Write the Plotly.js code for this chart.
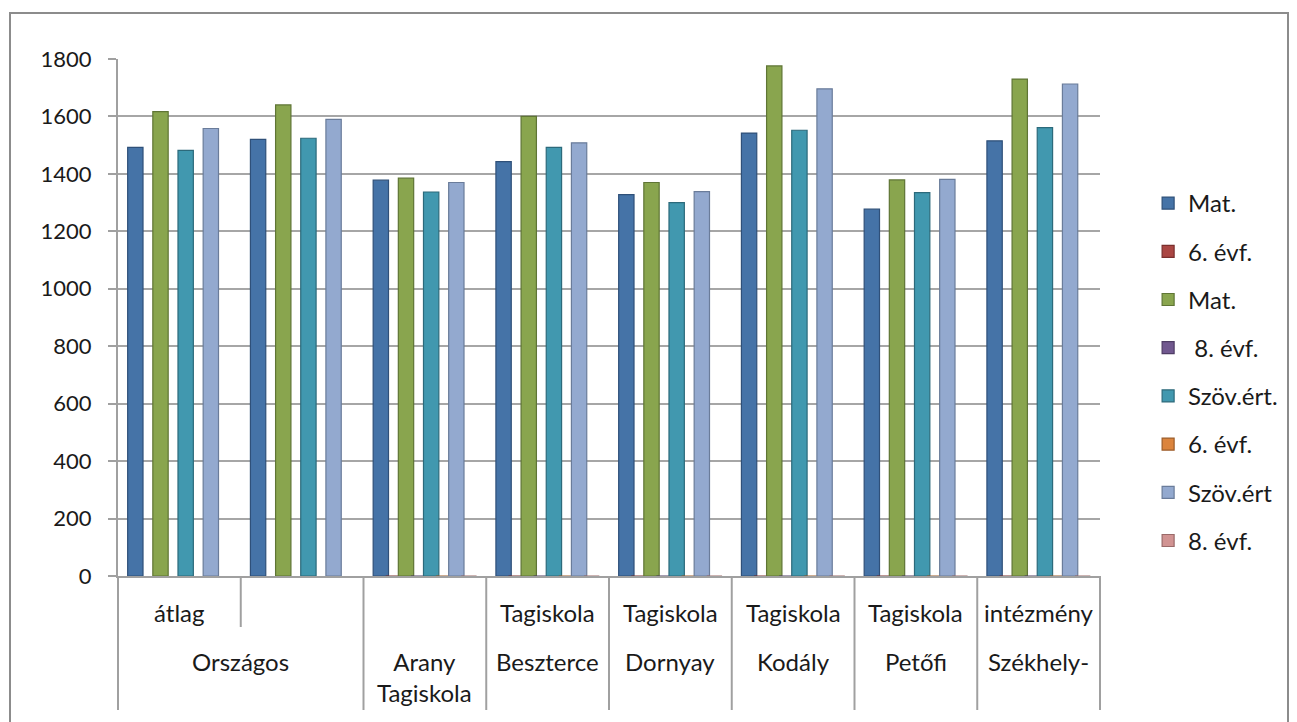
<!DOCTYPE html>
<html>
<head>
<meta charset="utf-8">
<script src="https://cdn.plot.ly/plotly-3.0.1.min.js"></script>
<style>html,body{margin:0;padding:0;background:#fff;}#chart{width:1297px;height:722px;}</style>
</head>
<body>
<div id="chart"></div>
<script>
// Category labels (two levels: upper row = inner, lower row = outer)
var outerLabels = ['Országos', 'Országos', 'Arany<br>Tagiskola', 'Beszterce', 'Dornyay', 'Kodály', 'Petőfi', 'Székhely-'];
var innerLabels = ['átlag', '', '', 'Tagiskola', 'Tagiskola', 'Tagiskola', 'Tagiskola', 'intézmény'];

// Y-axis ticks
var yTicks = [0, 200, 400, 600, 800, 1000, 1200, 1400, 1600, 1800];

// Series names (legend order)
var seriesNames = ['Mat.', '6. évf.', 'Mat.', ' 8. évf.', 'Szöv.ért.', '6. évf.', 'Szöv.ért', '8. évf.'];

// Series values
var matA  = [1492, 1520, 1378, 1443, 1328, 1542, 1277, 1515];
var evf6A = [null, null, 0, 0, 0, 0, 0, 0];
var matB  = [1617, 1640, 1385, 1600, 1370, 1776, 1379, 1730];
var evf8A = [null, null, 0, 0, 0, 0, 0, 0];
var szovA = [1482, 1524, 1337, 1492, 1300, 1552, 1335, 1561];
var evf6B = [null, null, 0, 0, 0, 0, 0, 0];
var szovB = [1558, 1590, 1370, 1508, 1338, 1696, 1381, 1713];
var evf8B = [null, null, 0, 0, 0, 0, 0, 0];

var seriesValues = [matA, evf6A, matB, evf8A, szovA, evf6B, szovB, evf8B];
var colors = ['#4573A7', '#AA4643', '#89A54E', '#71588F', '#4198AF', '#DB843D', '#93A9CF', '#D19392'];
var edges  = ['#2f5079', '#7a2f2d', '#5f7535', '#4f3d65', '#2c6a7b', '#9c5c28', '#6a7c9a', '#9a6a69'];

var FONT = 'Lato, "Liberation Sans", sans-serif';
var TEXT = '#1a1a1a';
var LINE = '#a0a0a0';

// Unique category keys built from the two label rows
var catKeys = outerLabels.map(function (o, i) { return o.replace('<br>', ' ') + ' | ' + innerLabels[i] + ' #' + i; });
var nCat = catKeys.length;

var traces = seriesValues.map(function (vals, i) {
  return {
    type: 'bar',
    name: seriesNames[i],
    x: catKeys,
    y: vals,
    width: 0.125,
    legendgroup: 'g' + i,
    marker: { color: colors[i], line: { color: edges[i], width: 1.2 } },
    hoverinfo: 'y+name'
  };
});

// Pixel helpers for the label band below the axis (plot: top 59, bottom 576)
var plotTop = 59, plotBottom = 576, plotH = plotBottom - plotTop;
function py(pix) { return (plotBottom - pix) / plotH; }

var annotations = [];
var shapes = [];

// Inner row labels
innerLabels.forEach(function (lab, i) {
  if (!lab) return;
  annotations.push({
    xref: 'paper', yref: 'paper', x: (i + 0.5) / nCat, y: py(612),
    xanchor: 'center', yanchor: 'middle', showarrow: false, text: lab,
    font: { family: FONT, size: 24, color: TEXT }
  });
});

// Outer row labels: merge consecutive equal labels into groups
var groups = [];
outerLabels.forEach(function (lab, i) {
  if (groups.length && groups[groups.length - 1].label === lab) groups[groups.length - 1].end = i;
  else groups.push({ label: lab, start: i, end: i });
});
groups.forEach(function (g) {
  annotations.push({
    xref: 'paper', yref: 'paper', x: ((g.start + g.end + 1) / 2) / nCat, y: py(645),
    xanchor: 'center', yanchor: 'top', showarrow: false, text: g.label,
    font: { family: FONT, size: 24, color: TEXT }
  });
});

// Dividers: group boundaries (full height) and inner boundaries within a group
for (var k = 0; k <= nCat; k++) {
  var isGroupEdge = (k === 0 || k === nCat || outerLabels[k] !== outerLabels[k - 1]);
  var bottom = isGroupEdge ? 710 : 627;
  shapes.push({
    type: 'line', xref: 'paper', yref: 'paper', x0: k / nCat, x1: k / nCat, y0: 0, y1: py(bottom),
    line: { color: LINE, width: 2 }
  });
}

// Chart frame
shapes.push({
  type: 'rect', xref: 'paper', yref: 'paper',
  x0: (10 - 118) / 982, x1: (1288 - 118) / 982, y0: py(740), y1: py(13),
  line: { color: '#8c8c8c', width: 2 }, fillcolor: 'rgba(0,0,0,0)', layer: 'below'
});

var layout = {
  width: 1297,
  height: 722,
  paper_bgcolor: '#ffffff',
  plot_bgcolor: '#ffffff',
  font: { family: FONT, size: 22, color: TEXT },
  margin: { l: 118, r: 197, t: plotTop, b: 722 - plotBottom },
  barmode: 'group',
  bargap: 0.18,
  bargroupgap: 0,
  showlegend: true,
  legend: {
    x: 1.049, xanchor: 'left',
    y: py(181), yanchor: 'top',
    tracegroupgap: 14,
    font: { family: FONT, size: 24, color: TEXT },
    bgcolor: 'rgba(0,0,0,0)'
  },
  xaxis: {
    type: 'category',
    range: [-0.5, nCat - 0.5],
    showticklabels: false,
    ticks: '',
    showline: true,
    linecolor: LINE,
    linewidth: 2,
    showgrid: false,
    zeroline: false
  },
  yaxis: {
    range: [0, 1800],
    tickvals: yTicks,
    showline: true,
    linecolor: LINE,
    linewidth: 2,
    ticks: 'outside',
    ticklen: 8,
    tickwidth: 2,
    tickcolor: LINE,
    showgrid: true,
    gridcolor: '#a6a6a6',
    gridwidth: 2,
    zeroline: false,
    tickfont: { family: FONT, size: 22, color: TEXT },
    ticklabelstandoff: 12
  },
  annotations: annotations,
  shapes: shapes
};

Plotly.newPlot('chart', traces, layout, { displayModeBar: false, staticPlot: true });
</script>
</body>
</html>
